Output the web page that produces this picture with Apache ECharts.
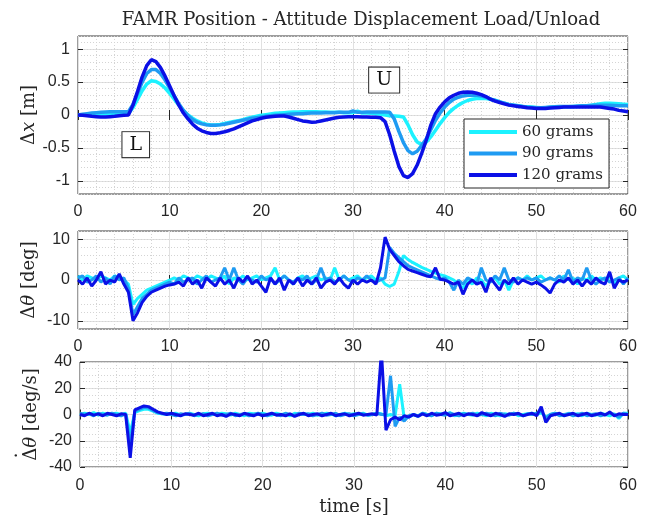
<!DOCTYPE html>
<html>
<head>
<meta charset="utf-8">
<script src="https://cdn.jsdelivr.net/npm/echarts@6/dist/echarts.min.js"></script>
<style>
  html, body { margin: 0; padding: 0; background: #fff; }
  #chart { width: 647px; height: 518px; }
</style>
</head>
<body>
<div id="chart"></div>
<script>
// samples every 0.5 s, t = 0 .. 60
const dt = 0.5;
const seriesNames = ["60 grams", "90 grams", "120 grams"];
const seriesColors = ["#1cf2ff", "#1f9bf2", "#0b10e6"];

// position displacement dx [m]
const dx60 = [
  0, 0, 0.005, 0.01, 0.01, 0.015, 0.015, 0.02, 0.02, 0.02,
  0.02, 0.02, 0.11, 0.24, 0.37, 0.47, 0.52, 0.51, 0.47, 0.41,
  0.33, 0.24, 0.15, 0.07, 0.0, -0.05, -0.09, -0.12, -0.14, -0.15,
  -0.15, -0.145, -0.13, -0.115, -0.1, -0.085, -0.07, -0.05, -0.035, -0.02,
  -0.005, 0.005, 0.015, 0.025, 0.03, 0.035, 0.04, 0.045, 0.045, 0.05,
  0.05, 0.05, 0.05, 0.045, 0.045, 0.04, 0.04, 0.04, 0.035, 0.035,
  0.035, 0.06, 0.03, 0.03, 0.025, 0.02, 0.01, 0.0, -0.01, -0.015,
  -0.02, -0.03, -0.15, -0.3, -0.41, -0.45, -0.41, -0.33, -0.23, -0.13,
  -0.04, 0.04, 0.1, 0.15, 0.19, 0.22, 0.24, 0.25, 0.255, 0.25,
  0.24, 0.225, 0.2, 0.18, 0.16, 0.15, 0.14, 0.13, 0.125, 0.12,
  0.115, 0.11, 0.11, 0.115, 0.12, 0.12, 0.125, 0.125, 0.13, 0.13,
  0.135, 0.14, 0.15, 0.16, 0.17, 0.18, 0.18, 0.175, 0.17, 0.165,
  0.16
];
const dx90 = [
  0, 0.01, 0.02, 0.03, 0.035, 0.04, 0.045, 0.05, 0.05, 0.05,
  0.05, 0.05, 0.16, 0.33, 0.5, 0.63, 0.69, 0.69, 0.63, 0.53,
  0.41, 0.29, 0.17, 0.07, -0.01, -0.07, -0.11, -0.135, -0.15, -0.155,
  -0.155, -0.15, -0.14, -0.125, -0.11, -0.095, -0.08, -0.065, -0.05, -0.04,
  -0.03, -0.02, -0.01, -0.005, 0.0, 0.005, 0.01, 0.015, 0.02, 0.02,
  0.025, 0.03, 0.03, 0.03, 0.035, 0.035, 0.035, 0.04, 0.04, 0.04,
  0.06, 0.04, 0.04, 0.045, 0.045, 0.045, 0.045, 0.045, 0.04, -0.06,
  -0.25, -0.42, -0.54, -0.59, -0.55, -0.46, -0.36, -0.22, -0.08, 0.03,
  0.12, 0.19, 0.24, 0.27, 0.29, 0.3, 0.305, 0.3, 0.29, 0.27,
  0.24, 0.22, 0.2, 0.18, 0.16, 0.15, 0.14, 0.13, 0.12, 0.115,
  0.11, 0.11, 0.115, 0.12, 0.125, 0.13, 0.13, 0.13, 0.13, 0.135,
  0.14, 0.14, 0.145, 0.15, 0.15, 0.15, 0.15, 0.145, 0.14, 0.14,
  0.14
];
const dx120 = [
  0, -0.005, -0.01, -0.02, -0.025, -0.03, -0.03, -0.025, -0.02, -0.01,
  -0.005, 0.0, 0.15, 0.36, 0.58, 0.75, 0.84, 0.81, 0.72, 0.59,
  0.44, 0.29, 0.15, 0.03, -0.06, -0.14, -0.2, -0.24, -0.265, -0.28,
  -0.28, -0.27, -0.255, -0.235, -0.21, -0.18, -0.15, -0.12, -0.09, -0.07,
  -0.05, -0.035, -0.025, -0.02, -0.015, -0.015, -0.03, -0.05, -0.07, -0.09,
  -0.1, -0.11, -0.105, -0.09, -0.075, -0.06, -0.045, -0.035, -0.03, -0.025,
  -0.025, -0.025, -0.03, -0.03, -0.035, -0.035, -0.04, -0.1, -0.3, -0.55,
  -0.78, -0.92, -0.95, -0.89, -0.76, -0.58, -0.38, -0.15, 0.02, 0.12,
  0.2, 0.26, 0.3, 0.33, 0.345, 0.35, 0.345, 0.33, 0.31, 0.28,
  0.24, 0.21, 0.19, 0.17, 0.15, 0.14, 0.13, 0.12, 0.11, 0.105,
  0.1, 0.1, 0.1, 0.105, 0.11, 0.115, 0.12, 0.12, 0.12, 0.12,
  0.12, 0.12, 0.12, 0.12, 0.12, 0.11, 0.1, 0.09, 0.07, 0.06,
  0.05
];

// attitude displacement [deg]
const th60 = [
  1, 0, 1, 0.5, 0, 1, 0.5, 0, 1, 0.5,
  0, -1, -6, -4.5, -3.5, -2.5, -2, -1.5, -1, -0.5,
  0, 0.5, 0, 1, 0.5, 0, 1, 0.5, 0, 1,
  0.5, 0, 1, -1, 0.5, 0, 1, 0, 0.5, 1,
  0, 0.5, 1, 3, 0, 1, 0, -1, 0.5, 1,
  0, 0.5, 1, 0, 0.5, 0, 3, 0, 1, 0,
  0.5, 1, 0, 0.5, 1, 0, 0.5, -1, -1.6, -1,
  2, 6, 5, 4.3, 3.7, 3.1, 2.6, 2.1, 1.7, 1.3,
  1, 0.5, 0, -1, -2, 0, -1, 0.5, 0, -1.5,
  0, 0.5, -1, 0, -2.5, 0, 0.5, 0, 1, 0,
  0.5, 1, 0, 0.5, 0, -0.5, 1, 0, 0.5, -1,
  0.5, 0, 1, 0, 0.5, 0, 1, -1, 0.5, 1,
  0
];
const th90 = [
  0.5, 1, -0.5, 0, 1, -0.5, 0.5, -1, 1, 0,
  0.5, -2, -8.5, -6.5, -4.5, -3.5, -2.5, -2, -1.5, -1,
  -0.5, -1, 0.5, -0.5, 0, 0.5, -1, 0, 1, -0.5,
  0, 0.5, 3, 0, 3, 0, -1, 0.5, 0, -0.5,
  1, 0, 0.5, -1, 0, 1, 0, -0.5, 0.5, 0,
  1, -1, 0, 3, 0, 0.5, -0.5, 0, 1, 0,
  -0.5, 0.5, 0, 1, 0, -0.5, 0, 0.5, 8, 6.5,
  5.5, 4.5, 3.5, 3, 2.5, 2, 1.5, 1, 0.5, 0.2,
  0.5, -0.5, -2.5, 0, -1, 0.5, 0, -1, 3, 0,
  -0.5, 1, 0, 3, 0, -0.5, 0.5, 0, 0.5, 0,
  0.5, -0.5, 0, 0.5, 0, 1, 0, 2.5, -0.5, 0.5,
  0, 3, 0, -1, 0, 0.5, -0.5, 0, 0.5, -1,
  0.5
];
const th120 = [
  0, -1, 0.5, -1.5, 0, 2, -1, 0, -0.5, 1.5,
  -1, -3, -10, -8, -5.5, -4, -3, -2.5, -2, -1.5,
  -1.2, -1, -0.5, -1.5, 0.5, -1, 0, -2, 0.5, -0.5,
  -1.5, 0.5, -1, 0, -2, 0.5, -0.5, 1, -1, 0,
  -1.5, -3, 0.5, -1, 0.5, -2.5, 0, -1, 0.5, -1.5,
  0, -1, 0.5, -2, -0.5, 0, -1, 0.5, -1, -2,
  0, -1, 0, -0.5, 0, -1, 3, 10.5, 7.5, 6,
  4.5, 3.5, 2.6, 2.2, 1.8, 1.4, 1, 0.8, 3, 0.2,
  0, -0.5, -1, -0.5, -3.5, -1, 0, -1, -0.5, -3,
  0.5, -1, -2.5, 0, -1, 0.5, -1, 0, -0.5, -1,
  -0.5, -1.2, -2, -3.2, -1, 0, -0.5, 0.5, -1, 0,
  -1.5, 0, -1, 0.5, -0.5, -1, 2, -2, 0, -0.5,
  0
];

// attitude rate [deg/s]
const rt60 = [
  -0.5, 1, 0, 1.5, -0.5, 1, 0, 0.5, 1, 0,
  1, -14, 1.5, 3, 4, 4, 2.5, 1, 0.5, 0,
  0.5, 1, -0.5, 0, 1, 0, -1, 0.5, 1, 0,
  0, 1, 0.5, -0.5, 1, 0, -1, 1, 0.5, 0,
  1, 0, -0.5, 1, 0, 0.5, -1, 1, 0, 0.5,
  0, 1, -0.5, 0, 1, 0.5, -1, 0, 1, 0,
  0.5, 0, 1, -0.5, 0, 1, 0.5, -1, 0, -1,
  23, -3, -2, 0, -1.5, 1, 0, -1, 1, 0.5,
  0, 1.5, -1, 0, 1, 0, -0.5, 1, 0, -1,
  1, 0, -1, 0.5, 0, 1, -1, 0, 0.5, 1,
  0, 1.5, -2, 0, 1, 0, -1, 1, 0, 0.5,
  -1, 1, 0, -0.5, 1, 0, -1, 0.5, -3, 1,
  1
];
const rt90 = [
  1, 0, 0.5, -1, 1, 0, -0.5, 1, 0, -1,
  0.5, -23, 2.5, 4, 5.5, 5, 3, 1.5, 0.5, 1,
  0, -1, 0.5, 0, 1, -1, 0, 0.5, -1, 0,
  1, -0.5, 0, 1, -1, 0, 0.5, -1, 0, 1,
  0, -1, 0.5, 0, -1, 1, 0, -0.5, 1, 0,
  0.5, -1, 0, 1, -0.5, 0, 1, -1, 0, 0.5,
  -1, 0, 0.5, -0.5, 0, 1, 0, 0, 29.5, -9,
  -2, -5, -1, 0, -1, 1, 0, -1, 1, 0,
  -0.5, 1, 0, -1, 0.5, 0, 1, -0.5, 0, 1,
  0, -1, 1, 0, -0.5, 1, 0, -1, 0.5, 0,
  1, 3, -3, 0, 1, -1, 0, 0.5, -1, 0,
  1, -1, 0, 0.5, -1, 0, 1, 0, -2, 1,
  0
];
const rt120 = [
  0, -1, 1, -0.5, 0.5, -1, 1, 0, -1, 0.5,
  0, -33, 3.5, 5, 6.5, 6, 4, 2, 1, 0,
  1, 0, -1, 0.5, 0, -0.5, 1, -1, 0, 1,
  -1, 0, -1.5, 0.5, 0, -1, 1, 0, -1, 0.5,
  -1, 0, 1, -0.5, 0, -1, 0.5, -1.5, 0, 1,
  -1, 0, 0.5, -1, 0, 1, -1, 0, 0.5, -1,
  0, 1, -0.5, 0, 0.5, -0.5, 48, -12, -4, -2,
  -4, -1, -2, 0, -1.5, 0.5, -1, 1, -0.5, 0,
  1.5, -1, 0, 1, -1, 0.5, 0, -1, 1.5, 0,
  -1, 1, 0, -1.5, 0.5, 0, 1, -1, 0, 1,
  -1, 6, -6, -1, 0, 1, -1, 0, 1, -1,
  0, 1, -1, 0, 1, -0.5, 2, -1, 0.5, 0,
  0
];

const xTicks = [0, 10, 20, 30, 40, 50, 60];
const dxTicks = [-1, -0.5, 0, 0.5, 1];
const thTicks = [-10, 0, 10];
const rtTicks = [-40, -20, 0, 20, 40];

const ink = "#262626";
const sans = "Liberation Sans";
const serif = "DejaVu Serif";

const grids = [
  { left: 78, right: 19, top: 36, height: 158 },
  { left: 78, right: 19, top: 231, height: 98 },
  { left: 78, right: 19, top: 362, height: 105 },
];

const panels = [
  { data: [dx60, dx90, dx120], min: -1.2, max: 1.2, minor: 0.1, ticks: dxTicks,
    name: "{d|Δ}{i|x}{d| [m]}", width: 3.5 },
  { data: [th60, th90, th120], min: -12, max: 12, minor: 2, ticks: thTicks,
    name: "{d|Δ}{i|θ}{d| [deg]}", width: 3 },
  // the dot sits on its own short line, over the Delta
  { data: [rt60, rt90, rt120], min: -40, max: 40, minor: 5, ticks: rtTicks,
    name: "{dot|·}\n{d|Δ}{i|θ}{d| [deg/s]}", width: 3 },
];

const nameRich = {
  d: { fontFamily: serif, fontSize: 18, color: ink, lineHeight: 22 },
  i: { fontFamily: serif, fontSize: 18, fontStyle: "italic", color: ink, lineHeight: 22 },
  dot: { fontFamily: serif, fontSize: 18, color: ink, lineHeight: 6, padding: [0, 82, 0, 0] },
};

const xAxes = [];
const yAxes = [];
const series = [];

panels.forEach((p, g) => {
  xAxes.push({
    type: "value", gridIndex: g, min: 0, max: 60, interval: 10,
    axisLine: { show: false },
    axisTick: { inside: true, length: 5, lineStyle: { color: ink } },
    axisLabel: { fontFamily: sans, fontSize: 16, color: ink, margin: g === 2 ? 11 : 10 },
    splitLine: { show: true, lineStyle: { color: "#e1e1e1", width: 1 } },
    minorTick: { show: false, splitNumber: 5 },
    minorSplitLine: { show: true, lineStyle: { color: "#d4d4d4", type: [1, 2] } },
    name: g === 2 ? "time [s]" : "",
    nameLocation: "middle", nameGap: 31,
    nameTextStyle: { fontFamily: serif, fontSize: 18, color: ink },
  });
  xAxes.push({
    type: "value", gridIndex: g, min: 0, max: 60, interval: 10, position: "top",
    axisLine: { show: false },
    axisTick: { inside: true, length: 5, lineStyle: { color: ink } },
    axisLabel: { show: false },
    splitLine: { show: false },
  });
  yAxes.push({
    type: "value", gridIndex: g, min: p.min, max: p.max,
    axisLine: { show: false },
    axisTick: { inside: true, length: 5, customValues: p.ticks, lineStyle: { color: ink } },
    axisLabel: { fontFamily: sans, fontSize: 16, color: ink, margin: 8, customValues: p.ticks },
    splitLine: { show: true, lineStyle: { color: "#e1e1e1", width: 1 } },
    name: p.name, nameLocation: "middle", nameGap: 38, nameRotate: 90,
    nameMoveOverlap: false,
    nameTextStyle: { rich: nameRich },
  });
  yAxes.push({
    type: "value", gridIndex: g, min: p.min, max: p.max, interval: p.minor,
    axisLine: { show: false }, axisTick: { show: false }, axisLabel: { show: false },
    splitLine: { show: true, lineStyle: { color: "#d4d4d4", type: [1, 2] } },
  });
  yAxes.push({
    type: "value", gridIndex: g, min: p.min, max: p.max, position: "right",
    axisLine: { show: false },
    axisTick: { inside: true, length: 5, customValues: p.ticks, lineStyle: { color: ink } },
    axisLabel: { show: false, customValues: p.ticks },
    splitLine: { show: false },
  });

  p.data.forEach((vals, k) => {
    const s = {
      name: seriesNames[k],
      type: "line",
      xAxisIndex: 2 * g,
      yAxisIndex: 3 * g,
      data: vals.map((v, i) => [i * dt, v]),
      showSymbol: false,
      lineStyle: { color: seriesColors[k], width: p.width },
      itemStyle: { color: seriesColors[k] },
      z: 3 + k,
    };
    if (g === 0 && k === 2) {
      s.markPoint = {
        symbol: "rect", symbolSize: 1,
        itemStyle: { color: "rgba(0,0,0,0)" },
        label: {
          show: true, position: "inside", formatter: "{b}",
          fontFamily: serif, fontSize: 19, color: "#111",
          backgroundColor: "#fff", borderColor: ink, borderWidth: 1,
          padding: [4, 7, 2, 7],
        },
        data: [
          { name: "L", coord: [6.3, -0.45] },
          { name: "U", coord: [33.4, 0.53] },
        ],
      };
    }
    series.push(s);
  });
});

const chart = echarts.init(document.getElementById("chart"), null, { renderer: "canvas" });
chart.setOption({
  animation: false,
  backgroundColor: "#fff",
  title: {
    text: "FAMR Position - Attitude Displacement Load/Unload",
    left: 356, top: 6, textAlign: "center",
    textStyle: { fontFamily: serif, fontSize: 18, fontWeight: "normal", color: ink },
  },
  legend: {
    data: seriesNames, orient: "vertical", left: 464, top: 119,
    icon: "rect", itemWidth: 48, itemHeight: 4, itemGap: 3.5,
    padding: [4, 6, 4, 5],
    backgroundColor: "#fff", borderColor: ink, borderWidth: 1, borderRadius: 0,
    textStyle: { fontFamily: serif, fontSize: 15, color: ink, lineHeight: 18 },
    selectedMode: false,
  },
  grid: grids.map((r) => Object.assign({
    show: true, borderColor: "#3a3a3a", borderWidth: 1, backgroundColor: "#fff",
  }, r)),
  xAxis: xAxes,
  yAxis: yAxes,
  series: series,
});
</script>
</body>
</html>
